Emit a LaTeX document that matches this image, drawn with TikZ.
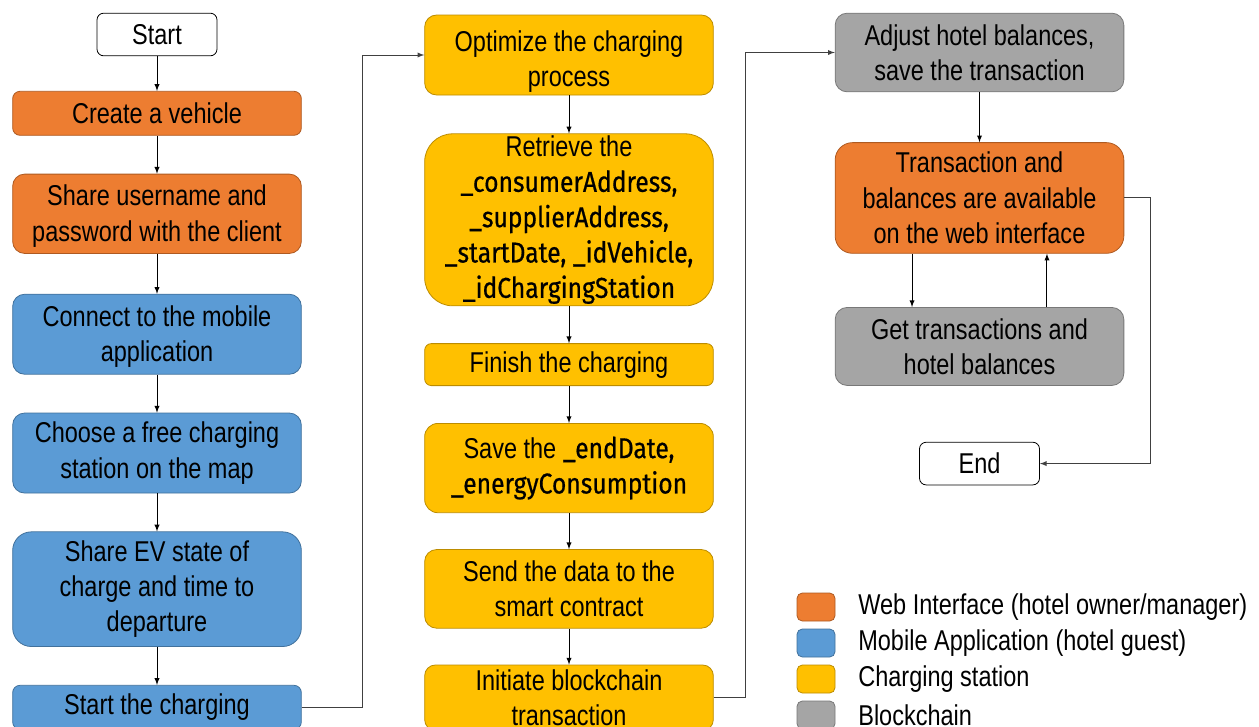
\documentclass[tikz,border=0pt]{standalone}
\usepackage{fontspec}
\setmainfont{Liberation Sans}[FakeStretch=0.82]
\newfontfamily\codefont{Fira Sans}[FakeStretch=0.86, FakeBold=0.6]
\usepackage{tikz}
\usetikzlibrary{arrows,shapes,positioning}
\definecolor{webOrange}{HTML}{ED7D31}
\definecolor{webOrangeLine}{HTML}{AE5A21}
\definecolor{appBlue}{HTML}{5B9BD5}
\definecolor{appBlueLine}{HTML}{41719C}
\definecolor{stationYellow}{HTML}{FFC000}
\definecolor{stationYellowLine}{HTML}{BC8C00}
\definecolor{chainGray}{HTML}{A5A5A5}
\definecolor{chainGrayLine}{HTML}{787878}
\definecolor{routeGray}{HTML}{404040}
\newcommand{\codeword}[1]{{\codefont #1}}
\newcommand{\topStrut}{\rule{0pt}{19pt}}

\begin{document}
\begin{tikzpicture}[x=0.75pt, y=-0.75pt,
			every node/.style={font=\fontsize{21.5}{26.5}\selectfont},
			box/.style={draw, rectangle, align=center, inner sep=0pt, line width=0.6pt},
			colBox/.style={box, minimum width=216.5pt},
			webBox/.style={colBox, fill=webOrange, draw=webOrangeLine},
			appBox/.style={colBox, fill=appBlue, draw=appBlueLine},
			stationBox/.style={colBox, fill=stationYellow, draw=stationYellowLine},
			chainBox/.style={colBox, fill=chainGray, draw=chainGrayLine},
			terminal/.style={box, fill=white, draw=black, minimum width=90pt, minimum height=32pt, rounded corners=5pt},
			swatch/.style={draw, rectangle, minimum width=28.5pt, minimum height=21pt, rounded corners=4pt, line width=0.6pt},
			legendText/.style={inner sep=0pt},
			arrow/.style={->, >=latex, line width=0.75pt},
			route/.style={arrow, draw=routeGray},
			]
			\useasboundingbox (0,0) rectangle (1259,726);
			
			% web interface and mobile application
			\draw node[terminal] (start) at (157,34.5) {Start};
			\draw node[webBox][minimum height=33pt, rounded corners=5.5pt, below=26pt of start] (createVehicle) {Create a vehicle};
			\draw node[webBox][minimum height=59.5pt, rounded corners=9pt, below=28.5pt of createVehicle] (shareLogin) {\topStrut Share username and\\password with the client};
			\draw node[appBox][minimum height=60pt, rounded corners=9pt, below=30pt of shareLogin] (connectApp) {\topStrut Connect to the mobile\\application};
			\draw node[appBox][minimum height=60pt, rounded corners=9pt, below=28.5pt of connectApp] (chooseStation) {Choose a free charging\\station on the map};
			\draw node[appBox][minimum height=86pt, rounded corners=14pt, below=28.5pt of chooseStation] (shareState) {Share EV state of\\charge and time to\\departure};
			\draw node[appBox][minimum height=33pt, rounded corners=5.5pt, below=28.5pt of shareState] (startCharging) {Start the charging};
			
			% charging station
			\draw node[stationBox][minimum height=60pt, rounded corners=9pt] (optimize) at (569,55) {\rule{0pt}{25pt}Optimize the charging\\process};
			\draw node[stationBox][minimum height=129pt, rounded corners=21pt, below=28.5pt of optimize] (retrieve) {Retrieve the\\\codeword{\_consumerAddress,}\\\codeword{\_supplierAddress,}\\\codeword{\_startDate, \_idVehicle,}\\\codeword{\_idChargingStation}};
			\draw node[stationBox][minimum height=31.5pt, rounded corners=5pt, below=27.75pt of retrieve] (finish) {Finish the charging};
			\draw node[stationBox][minimum height=67pt, rounded corners=10pt, below=27.75pt of finish] (saveData) {Save the \codeword{\_endDate,}\\\codeword{\_energyConsumption}};
			\draw node[stationBox][minimum height=59pt, rounded corners=9pt, below=27pt of saveData] (sendData) {Send the data to the\\smart contract};
			\draw node[stationBox][minimum height=49pt, rounded corners=8pt, below=27pt of sendData] (initiate) {Initiate blockchain\\transaction};
			
			% blockchain
			\draw node[chainBox][minimum height=59pt, rounded corners=9pt] (adjust) at (979.5,52.5) {Adjust hotel balances,\\save the transaction};
			\draw node[webBox][minimum height=83pt, rounded corners=13pt, below=37.5pt of adjust] (available) {Transaction and\\balances are available\\on the web interface};
			\draw node[chainBox][minimum height=58.5pt, rounded corners=9pt, below=40pt of available] (getBalances) {Get transactions and\\hotel balances};
			\draw node[terminal][below=42pt of getBalances] (end) {End};
			
			% legend
			\draw node[swatch, fill=webOrange, draw=webOrangeLine] (keyWeb) at (816,607) {};
			\draw node[legendText][right=17pt of keyWeb] (keyWebText) {Web Interface (hotel owner/manager)};
			\draw node[swatch, fill=appBlue, draw=appBlueLine] (keyApp) at (816,643) {};
			\draw node[legendText][right=17pt of keyApp] (keyAppText) {Mobile Application (hotel guest)};
			\draw node[swatch, fill=stationYellow, draw=stationYellowLine] (keyStation) at (816,679) {};
			\draw node[legendText][right=17pt of keyStation] (keyStationText) {Charging station};
			\draw node[swatch, fill=chainGray, draw=chainGrayLine] (keyChain) at (816,715) {};
			\draw node[legendText][right=17pt of keyChain] (keyChainText) {Blockchain};
			
			% Arrow
			\foreach \a/\b in {start/createVehicle, createVehicle/shareLogin, shareLogin/connectApp, connectApp/chooseStation, chooseStation/shareState, shareState/startCharging, optimize/retrieve, retrieve/finish, finish/saveData, saveData/sendData, sendData/initiate, adjust/available}
			\draw [arrow] (\a.south) -- (\b.north);
			
			\draw [route] (startCharging.east) -- ++(45.5pt,0) |- (optimize.west);
			\draw [route] (initiate.east) -- ++(24pt,0) |- (adjust.west);
			\draw [arrow] ([xshift=-50.6pt]available.south) -- ([xshift=-50.6pt]getBalances.north);
			\draw [arrow] ([xshift=50.6pt]getBalances.north) -- ([xshift=50.6pt]available.south);
			\draw [route] (available.east) -- ++(19.5pt,0) |- (end.east);
			
		\end{tikzpicture}
\end{document}
